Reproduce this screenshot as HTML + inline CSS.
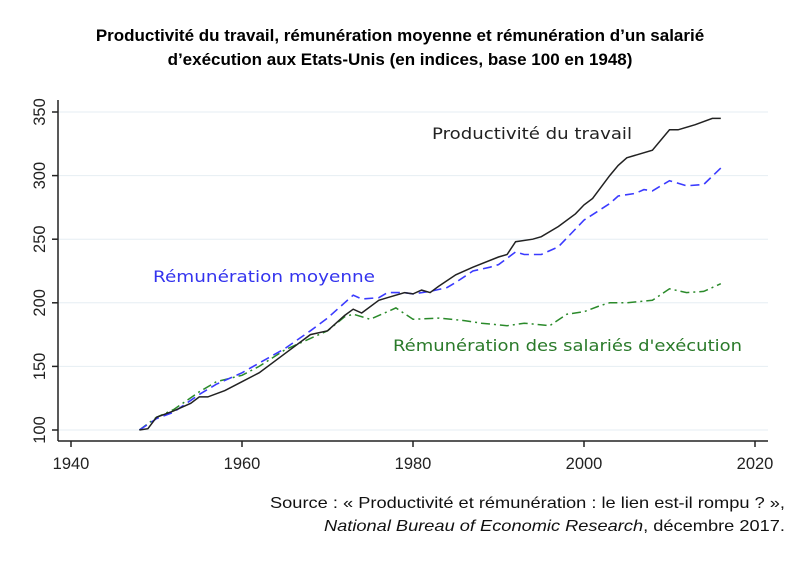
<!DOCTYPE html>
<html><head><meta charset="utf-8"><style>
body{margin:0;background:#fff;width:801px;height:561px;overflow:hidden}
</style></head><body>
<svg width="801" height="561" xmlns="http://www.w3.org/2000/svg" font-family="Liberation Sans, sans-serif">
<text x="400" y="41" text-anchor="middle" font-weight="bold" font-size="17">Productivité du travail, rémunération moyenne et rémunération d’un salarié</text>
<text x="400" y="65" text-anchor="middle" font-weight="bold" font-size="17">d’exécution aux Etats-Unis (en indices, base 100 en 1948)</text>
<g id="grid" stroke="#e6eef3" stroke-width="1"></g>
<g id="axes" stroke="#222" stroke-width="1.5" fill="none"></g>
<g id="lab" font-size="16.5" fill="#222"></g>
<g id="series" fill="none"></g>
<g font-family="DejaVu Sans, sans-serif" font-size="16">
<text x="432" y="139" fill="#222" textLength="200" lengthAdjust="spacingAndGlyphs">Productivité du travail</text>
<text x="153" y="282" fill="#3333ee" textLength="222" lengthAdjust="spacingAndGlyphs">Rémunération moyenne</text>
<text x="393" y="351" fill="#2a7a2a" textLength="349" lengthAdjust="spacingAndGlyphs">Rémunération des salariés d'exécution</text>
</g>
<text x="785" y="508" text-anchor="end" font-size="16" fill="#111" textLength="515" lengthAdjust="spacingAndGlyphs">Source : « Productivité et rémunération : le lien est-il rompu ? »,</text>
<text x="785" y="531" text-anchor="end" font-size="16" fill="#111" textLength="461" lengthAdjust="spacingAndGlyphs"><tspan font-style="italic">National Bureau of Economic Research</tspan>, décembre 2017.</text>
</svg>
<script>
const NS="http://www.w3.org/2000/svg";
const X=y=>71+8.55*(y-1940), Y=v=>430-1.272*(v-100);
function el(p,t,a,txt){const e=document.createElementNS(NS,t);for(const k in a)e.setAttribute(k,a[k]);if(txt)e.textContent=txt;document.getElementById(p).appendChild(e);}
for(let v=100;v<=350;v+=50){el('grid','line',{x1:58,x2:768,y1:Y(v),y2:Y(v)});
el('axes','line',{x1:52,x2:58,y1:Y(v),y2:Y(v)});
el('lab','text',{x:0,y:0,transform:`translate(45,${Y(v)}) rotate(-90)`,'text-anchor':'middle'},String(v));}
el('axes','line',{x1:58,x2:58,y1:100,y2:441});
el('axes','line',{x1:58,x2:768,y1:441,y2:441});
for(let y=1940;y<=2020;y+=20){el('axes','line',{x1:X(y),x2:X(y),y1:441,y2:447});
el('lab','text',{x:X(y),y:469,'text-anchor':'middle'},String(y));}
const P=[[1948,100],[1949,101],[1950,110],[1952,115],[1954,121],[1955,126],[1956,126],[1958,131],[1960,138],[1962,145],[1965,160],[1968,175],[1970,178],[1972,190],[1973,195],[1974,192],[1976,202],[1977,204],[1979,208],[1980,207],[1981,210],[1982,208],[1983,213],[1985,222],[1987,228],[1990,236],[1991,238],[1992,248],[1994,250],[1995,252],[1997,260],[1999,270],[2000,277],[2001,282],[2003,300],[2004,308],[2005,314],[2008,320],[2010,336],[2011,336],[2013,340],[2015,345],[2016,345]];
const B=[[1948,100],[1950,109],[1952,114],[1955,128],[1957,136],[1960,145],[1965,164],[1968,178],[1970,188],[1972,200],[1973,206],[1974,203],[1976,204],[1977,208],[1979,208],[1980,207],[1982,209],[1984,212],[1985,216],[1987,225],[1989,228],[1990,230],[1991,235],[1992,240],[1993,238],[1995,238],[1997,244],[1999,258],[2000,265],[2003,278],[2004,284],[2006,286],[2007,289],[2008,288],[2010,296],[2012,292],[2014,293],[2016,306]];
const G=[[1948,100],[1950,110],[1952,116],[1955,130],[1957,138],[1960,143],[1962,150],[1965,163],[1968,172],[1970,178],[1972,189],[1973,191],[1975,187],[1978,196],[1980,187],[1983,188],[1986,186],[1988,184],[1991,182],[1993,184],[1996,182],[1998,191],[2000,193],[2002,198],[2003,200],[2005,200],[2008,202],[2010,211],[2012,208],[2014,209],[2016,215]];
const pts=a=>a.map(p=>X(p[0]).toFixed(1)+","+Y(p[1]).toFixed(1)).join(" ");
el('series','polyline',{points:pts(G),stroke:"#2a8a2a","stroke-width":1.5,"stroke-dasharray":"9 4 2 4"});
el('series','polyline',{points:pts(B),stroke:"#3b3bff","stroke-width":1.6,"stroke-dasharray":"9 5"});
el('series','polyline',{points:pts(P),stroke:"#222","stroke-width":1.5});
</script>
</body></html>
